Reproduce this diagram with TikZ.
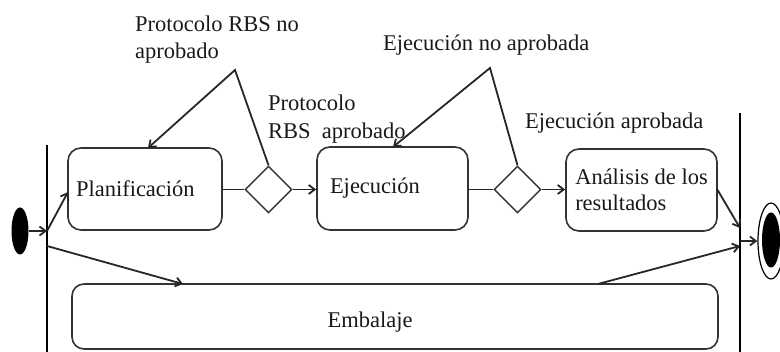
\documentclass[tikz,border=0pt]{standalone}
\usepackage{fontspec}
\setmainfont{Liberation Serif}
\usetikzlibrary{arrows.meta,shapes.geometric}
\begin{document}
\begin{tikzpicture}[x=1pt,y=-1pt,
  txt/.style={font=\fontsize{22.5}{27}\selectfont, text=black!90},
  actbox/.style={draw=black!80, line width=1.6pt, rounded corners=13pt, inner sep=0pt, txt},
  dec/.style={draw=black!80, line width=1.4pt, diamond, minimum width=47pt, minimum height=47pt, inner sep=0pt},
  bar/.style={line width=2.8pt, black},
  conn/.style={line width=1.8pt, black!85},
  arr/.style={conn, -{Straight Barb[length=6pt,width=9pt,line width=1.8pt]}},
  lbl/.style={txt, anchor=west, inner sep=0pt, align=left}
]
\useasboundingbox (0,0) rectangle (780,352);

% synchronisation bars
\coordinate (lbtop) at (47,145);
\coordinate (lbbot) at (47,352);
\coordinate (rbtop) at (740,113);
\coordinate (rbbot) at (740,352);
\draw[bar] (lbtop) -- (lbbot);
\draw[bar] (rbtop) -- (rbbot);

% start / end nodes
\node[ellipse, fill=black, minimum width=17pt, minimum height=47pt, inner sep=0pt] (start) at (20,231) {};
\node[ellipse, draw=black, line width=1.2pt, minimum width=26pt, minimum height=76pt, inner sep=0pt] (fin) at (771,241) {};
\node[ellipse, fill=black, minimum width=18pt, minimum height=55pt, inner sep=0pt] (fincore) at (771,240) {};

% activities
\node[actbox, minimum width=154pt, minimum height=82pt, text width=138pt, align=left] (plan) at (145,189) {Planificaci\'on};
\node[actbox, minimum width=151pt, minimum height=83pt, text width=125pt, align=left] (ejec) at (392.5,188.5) {Ejecuci\'on};
\node[actbox, minimum width=151pt, minimum height=82pt, align=left, font=\fontsize{22.5}{26}\selectfont] (anal) at (641.5,190) {An\'alisis de los\\resultados};
\node[actbox, rounded corners=12pt, minimum width=646pt, minimum height=65pt] (emb) at (395,316.5) {};
\node[txt, inner sep=0pt] (embtxt) at (370,322) {Embalaje};

% decisions
\node[dec] (d1) at (268.5,189.5) {};
\node[dec] (d2) at (517.5,189.5) {};

% bend points
\coordinate (p1) at (235,70);
\coordinate (p2) at (490,68);
\coordinate (lb1) at (47,231);
\coordinate (lb2) at (47,246);
\coordinate (rb1) at (740,228);
\coordinate (rb2) at (740,246);
\coordinate (rb3) at (740,241);
\coordinate (plantop) at (148,148);
\coordinate (ejectop) at (393,147);
\coordinate (embL) at (183,284);
\coordinate (embR) at (598,284);
\coordinate (analR) at (717,189);
\coordinate (planW) at (68,192);

% connectors
\draw[arr] (start.east) -- (lb1);
\draw[arr] (lb1) -- (planW);
\draw[arr] (lb2) -- (embL);
\draw[conn] (plan.east |- d1.west) -- (d1.west);
\draw[arr] (d1.east) -- (ejec.west |- d1.east);
\draw[arr] (d1.north) -- (p1) -- (plantop);
\draw[conn] (ejec.east |- d2.west) -- (d2.west);
\draw[arr] (d2.east) -- (anal.west |- d2.east);
\draw[arr] (d2.north) -- (p2) -- (ejectop);
\draw[arr] (analR) -- (rb1);
\draw[arr] (embR) -- (rb2);
\draw[arr] (rb3) -- (fin.west);

% labels
\node[lbl] (l1) at (135,40) {Protocolo RBS no\\aprobado};
\node[lbl, font=\fontsize{22.5}{28}\selectfont] (l2) at (268,119) {Protocolo\\RBS\ \ aprobado};
\node[lbl] (l3) at (383,45) {Ejecuci\'on no aprobada};
\node[lbl] (l4) at (525,123) {Ejecuci\'on aprobada};
\end{tikzpicture}
\end{document}
